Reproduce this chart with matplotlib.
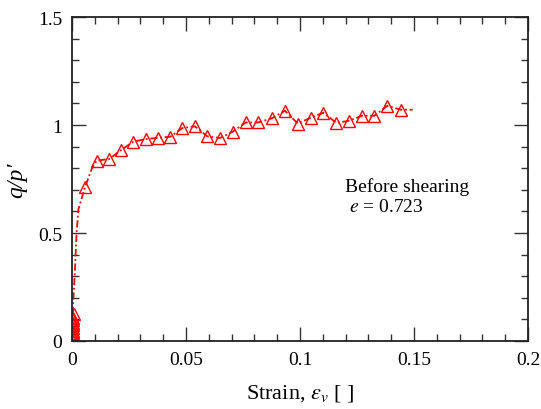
import matplotlib
matplotlib.use("Agg")
import matplotlib.pyplot as plt
from matplotlib.ticker import MultipleLocator, FuncFormatter

plt.rcParams['font.family'] = ['Liberation Serif', 'DejaVu Serif']
plt.rcParams['mathtext.fontset'] = 'stix'

# data
strain = [0.0003, 0.0003, 0.0003, 0.0004, 0.0004, 0.0004, 0.0005, 0.0005, 0.0006, 0.0006, 0.0007,
          0.0057, 0.0108, 0.0164, 0.0215, 0.0269, 0.0323, 0.0379, 0.0431, 0.0484, 0.0539,
          0.0593, 0.0649, 0.0705, 0.0762, 0.0817, 0.0876, 0.0934, 0.0990, 0.1047, 0.1102,
          0.1160, 0.1216, 0.1271, 0.1326, 0.1383, 0.1442]
ratio = [0.0, 0.012, 0.024, 0.036, 0.048, 0.060, 0.072, 0.084, 0.096, 0.108, 0.125,
         0.712, 0.835, 0.843, 0.884, 0.923, 0.935, 0.941, 0.946, 0.986, 0.994,
         0.948, 0.940, 0.969, 1.012, 1.012, 1.031, 1.066, 1.007, 1.034, 1.057,
         1.010, 1.020, 1.043, 1.043, 1.089, 1.071]
# the curve between markers
line_strain = [0.0003, 0.0006, 0.0013, 0.0020, 0.0028, 0.0057, 0.0086, 0.0108, 0.0164, 0.0215,
               0.0269, 0.0323, 0.0379, 0.0431, 0.0484, 0.0539, 0.0593, 0.0649, 0.0705, 0.0762,
               0.0817, 0.0876, 0.0934, 0.0990, 0.1047, 0.1102, 0.1160, 0.1216, 0.1271, 0.1326,
               0.1383, 0.1442, 0.1494]
line_ratio = [0.125, 0.194, 0.333, 0.500, 0.610, 0.712, 0.796, 0.835, 0.843, 0.884,
              0.923, 0.935, 0.941, 0.946, 0.986, 0.994, 0.948, 0.940, 0.969, 1.012,
              1.012, 1.031, 1.066, 1.007, 1.034, 1.057, 1.010, 1.020, 1.043, 1.043,
              1.089, 1.071, 1.071]

x_ticks = [0, 0.05, 0.1, 0.15, 0.2]
y_ticks = [0, 0.5, 1, 1.5]

fig = plt.figure(figsize=(5.41, 4.10), dpi=100)
ax = fig.add_axes([0.1331, 0.1659, 0.8429, 0.790])

ax.plot(line_strain, line_ratio, color='red', linestyle=(0, (4, 1.5, 1, 1.5)), linewidth=1.3)
ax.plot(strain, ratio, linestyle='none', marker='^', markersize=9, markerfacecolor='none',
        markeredgecolor='red', markeredgewidth=1.0)

ax.set_xlim(0, 0.2)
ax.set_ylim(0, 1.5)
ax.set_xticks(x_ticks)
ax.set_yticks(y_ticks)
ax.xaxis.set_minor_locator(MultipleLocator(0.01))
ax.yaxis.set_minor_locator(MultipleLocator(0.1))
fmt = FuncFormatter(lambda v, p: '%g' % v)
ax.xaxis.set_major_formatter(fmt)
ax.yaxis.set_major_formatter(fmt)

ax.tick_params(which='both', direction='in', top=True, right=True, width=1.0, color='#333333')
ax.tick_params(which='major', length=10, labelsize=14, pad=7)
ax.tick_params(which='minor', length=5)
for s in ax.spines.values():
    s.set_linewidth(1.3)
    s.set_color('#222222')

ax.set_xlabel(r'Strain, $\varepsilon_v$ [ ]', fontsize=16, labelpad=10)
ax.set_ylabel("q/p\u2032", fontsize=17, fontstyle='italic', labelpad=8)

ax.text(0.1197, 0.694, 'Before shearing', fontsize=14)
ax.text(0.1215, 0.603, r'$e$ = 0.723', fontsize=14)

fig.savefig('out.png', dpi=100)
